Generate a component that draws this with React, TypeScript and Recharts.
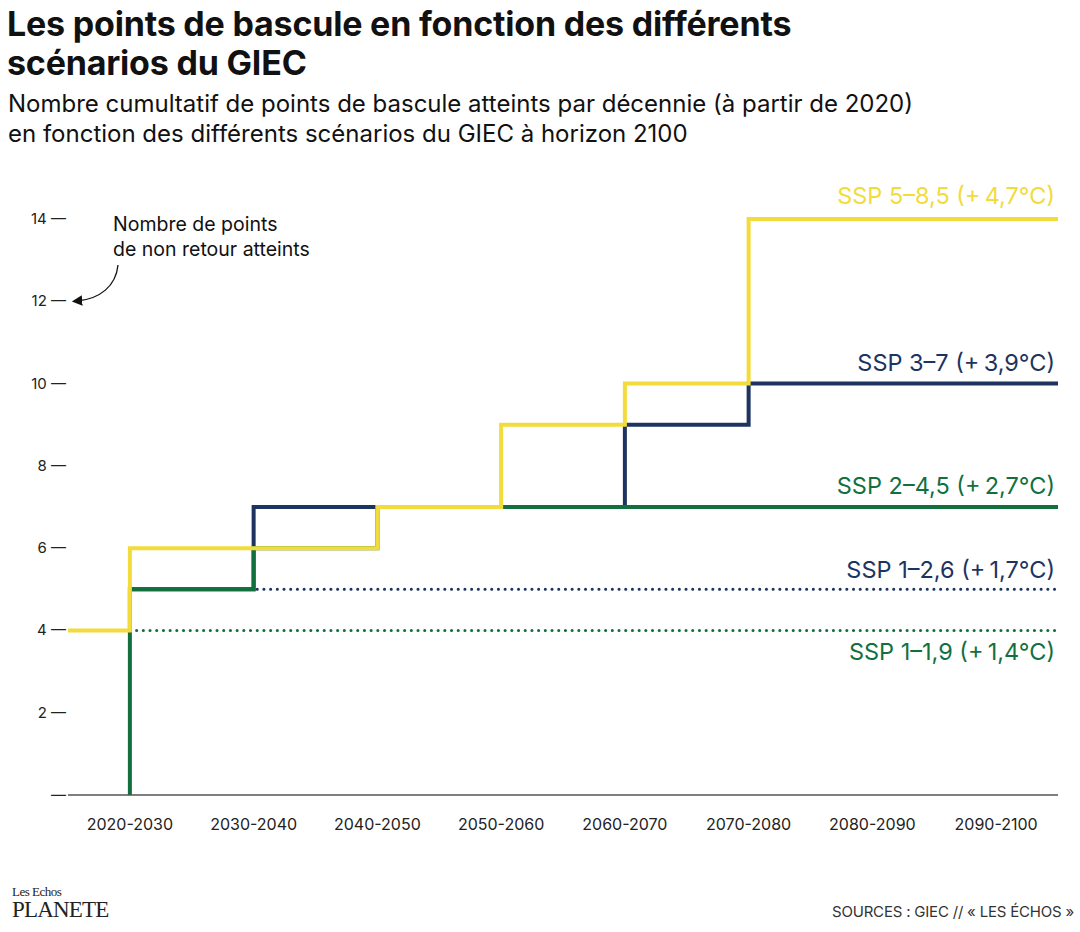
import React from 'react';
import { Line, LineChart, XAxis, YAxis } from 'recharts';

const decades = [
  '2020-2030',
  '2030-2040',
  '2040-2050',
  '2050-2060',
  '2060-2070',
  '2070-2080',
  '2080-2090',
  '2090-2100',
];
const yTicks = [0, 2, 4, 6, 8, 10, 12, 14];

// valeurs cumulées par décennie
const ssp585 = [6, 6, 7, 9, 10, 14, 14, 14];
const ssp370 = [5, 7, 7, 7, 9, 10, 10, 10];
const ssp245 = [5, 6, 7, 7, 7, 7, 7, 7];
const ssp126 = [5, 5, 5, 5, 5, 5, 5, 5];
const ssp119 = [4, 4, 4, 4, 4, 4, 4, 4];
const startLevel = 4; // avant 2020
const ssp245Origin = 0;

const YELLOW = '#f2db3a';
const NAVY = '#1d3461';
const GREEN = '#12703f';
const FONT = 'Inter, Roboto, "Noto Sans", sans-serif';

type Pt = { x: number; y: number };

const toPoints = (values: number[], lead: Pt[] = []): Pt[] => [
  ...lead,
  ...values.map((v, i) => ({ x: i, y: v })),
  { x: values.length - 0.5, y: values[values.length - 1] },
];

const pts585 = toPoints(ssp585, [{ x: -0.5, y: startLevel }]);
const pts370 = toPoints(ssp370);
const pts245 = toPoints(ssp245, [{ x: 0, y: ssp245Origin }]);
const pts126 = toPoints(ssp126);
const pts119 = toPoints(ssp119);

const endLabel = (text: string, color: string, count: number, dy: number) => (props: any) => {
  if (props.index !== count - 1) return null;
  return (
    <text
      x={props.x - 3}
      y={props.y + dy}
      textAnchor="end"
      fill={color}
      fontSize={23.5}
      fontFamily={FONT}
    >
      {text}
    </text>
  );
};

const YTick = (props: any) => {
  const v = props.payload.value;
  return (
    <text
      x={props.x + 6}
      y={props.y + 5}
      textAnchor="end"
      fill="#222"
      fontSize={15}
      fontFamily={FONT}
    >
      {v === 0 ? '—' : `${v} —`}
    </text>
  );
};

export default function App() {
  return (
    <div style={{ position: 'relative', width: 1080, height: 932, background: '#fff', fontFamily: FONT }}>
      <style>{'body{margin:0}'}</style>
      <div
        style={{
          position: 'absolute',
          left: 7,
          top: 4,
          fontSize: 34,
          fontWeight: 700,
          lineHeight: '39px',
          letterSpacing: -0.2,
          color: '#111',
        }}
      >
        Les points de bascule en fonction des différents
        <br />
        scénarios du GIEC
      </div>
      <div
        style={{
          position: 'absolute',
          left: 8,
          top: 89,
          fontSize: 24,
          lineHeight: '30px',
          color: '#111',
        }}
      >
        Nombre cumultatif de points de bascule atteints par décennie (à partir de 2020)
        <br />
        en fonction des différents scénarios du GIEC à horizon 2100
      </div>

      <div style={{ position: 'absolute', left: 0, top: 0 }}>
        <LineChart width={1080} height={932} margin={{ top: 219, right: 22, bottom: 97, left: 8 }}>
          <XAxis
            type="number"
            dataKey="x"
            domain={[-0.5, 7.5]}
            ticks={decades.map((_, i) => i)}
            tickFormatter={(v: number) => decades[v] ?? ''}
            allowDataOverflow
            height={40}
            tickLine={false}
            axisLine={{ stroke: '#555', strokeWidth: 1.5 }}
            tick={{ fill: '#222', fontSize: 16, fontFamily: FONT }}
            tickMargin={18}
          />
          <YAxis
            type="number"
            dataKey="y"
            domain={[0, 14]}
            ticks={yTicks}
            width={60}
            axisLine={false}
            tickLine={false}
            tick={<YTick />}
          />
          <Line
            data={pts119}
            dataKey="y"
            type="stepAfter"
            stroke={GREEN}
            strokeWidth={3}
            strokeDasharray="0.1 6.6"
            strokeLinecap="round"
            dot={false}
            activeDot={false}
            isAnimationActive={false}
            label={endLabel('SSP 1–1,9 (+\u20091,4°C)', GREEN, pts119.length, 30)}
          />
          <Line
            data={pts126}
            dataKey="y"
            type="stepAfter"
            stroke={NAVY}
            strokeWidth={3}
            strokeDasharray="0.1 6.6"
            strokeLinecap="round"
            dot={false}
            activeDot={false}
            isAnimationActive={false}
            label={endLabel('SSP 1–2,6 (+\u20091,7°C)', NAVY, pts126.length, -11)}
          />
          <Line
            data={pts370}
            dataKey="y"
            type="stepAfter"
            stroke={NAVY}
            strokeWidth={4}
            dot={false}
            activeDot={false}
            isAnimationActive={false}
            label={endLabel('SSP 3–7 (+\u20093,9°C)', NAVY, pts370.length, -13)}
          />
          <Line
            data={pts245}
            dataKey="y"
            type="stepAfter"
            stroke={GREEN}
            strokeWidth={4}
            dot={false}
            activeDot={false}
            isAnimationActive={false}
            label={endLabel('SSP 2–4,5 (+\u20092,7°C)', GREEN, pts245.length, -13)}
          />
          <Line
            data={pts585}
            dataKey="y"
            type="stepAfter"
            stroke={YELLOW}
            strokeWidth={4}
            dot={false}
            activeDot={false}
            isAnimationActive={false}
            label={endLabel('SSP 5–8,5 (+\u20094,7°C)', YELLOW, pts585.length, -15)}
          />
        </LineChart>
      </div>

      <div
        style={{
          position: 'absolute',
          left: 113,
          top: 212,
          fontSize: 19.5,
          lineHeight: '25px',
          color: '#111',
        }}
      >
        Nombre de points
        <br />
        de non retour atteints
      </div>
      <svg width={1080} height={932} style={{ position: 'absolute', left: 0, top: 0, pointerEvents: 'none' }}>
        <defs>
          <marker id="ah" markerWidth="8" markerHeight="8" refX="4" refY="4" orient="auto">
            <path d="M0,0 L8,4 L0,8 z" fill="#111" />
          </marker>
        </defs>
        <path d="M118,265 C116,286 100,299 77,301" fill="none" stroke="#111" strokeWidth={1.3} markerEnd="url(#ah)" />
      </svg>

      <div style={{ position: 'absolute', left: 12, top: 885, fontFamily: '"Liberation Serif", serif', color: '#222' }}>
        <div style={{ fontSize: 13, lineHeight: '14px', letterSpacing: -0.5 }}>Les Echos</div>
        <div style={{ fontSize: 23, lineHeight: '22px', letterSpacing: -0.8 }}>PLANETE</div>
      </div>
      <div style={{ position: 'absolute', right: 6, top: 902, fontSize: 15, color: '#333', letterSpacing: -0.2 }}>
        SOURCES : GIEC // « LES ÉCHOS »
      </div>
    </div>
  );
}
